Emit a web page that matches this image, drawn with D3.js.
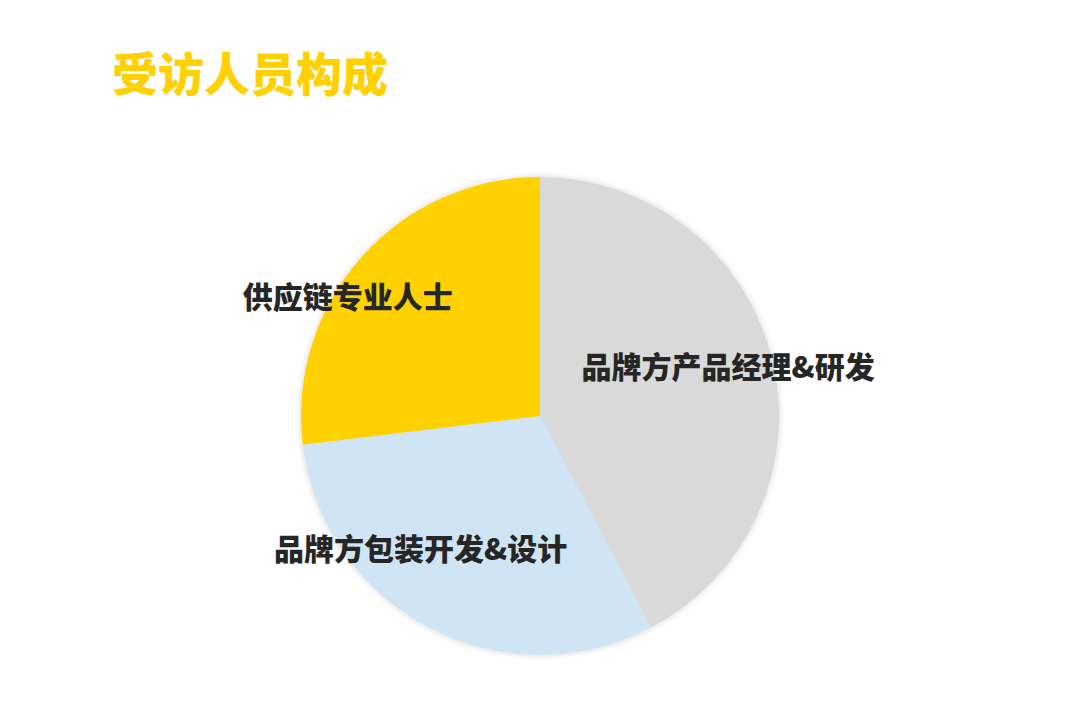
<!DOCTYPE html>
<html>
<head>
<meta charset="utf-8">
<script src="https://cdn.jsdelivr.net/npm/d3@7"></script>
<style>
  body { margin: 0; background: #ffffff; }
  svg { display: block; font-family: "Noto Sans CJK SC", "Noto Sans", sans-serif; }
</style>
</head>
<body>
<svg id="chart"></svg>
<script>
// data
const categories = ["品牌方产品经理&研发", "品牌方包装开发&设计", "供应链专业人士"];
const counts = [11, 8, 7];
const colors = ["#D9D9D9", "#CFE4F4", "#FFD100"];

// label nudges from the arc centroid (px)
const labelNudge = [[14, -6], [-36, -25], [-58, 0]];

const width = 1080;
const height = 725;
const cx = 540, cy = 416, radius = 239;

const svg = d3.select("#chart")
    .attr("width", width)
    .attr("height", height);

// soft shadow round the pie
const defs = svg.append("defs");
const filter = defs.append("filter")
    .attr("id", "shadow")
    .attr("x", "-20%").attr("y", "-20%")
    .attr("width", "140%").attr("height", "140%");
filter.append("feGaussianBlur")
    .attr("in", "SourceAlpha")
    .attr("stdDeviation", 3);
filter.append("feComponentTransfer")
    .append("feFuncA").attr("type", "linear").attr("slope", 0.18);
const merge = filter.append("feMerge");
merge.append("feMergeNode");
merge.append("feMergeNode").attr("in", "SourceGraphic");

// title
svg.append("text")
    .attr("x", 112)
    .attr("y", 91)
    .style("font-size", "46px")
    .style("font-weight", 900)
    .attr("fill", "#FFD100")
    .text("受访人员构成");

const data = categories.map((c, i) => ({ name: c, value: counts[i], color: colors[i], nudge: labelNudge[i] }));

const pie = d3.pie()
    .value(d => d.value)
    .sort(null);

const arc = d3.arc()
    .innerRadius(0)
    .outerRadius(radius);

const labelArc = d3.arc()
    .innerRadius(radius * 0.75)
    .outerRadius(radius * 0.75);

const g = svg.append("g")
    .attr("transform", "translate(" + cx + "," + cy + ")");

g.append("g")
    .attr("filter", "url(#shadow)")
    .selectAll("path")
    .data(pie(data))
    .enter()
    .append("path")
    .attr("d", arc)
    .attr("fill", d => d.data.color);

g.selectAll(".slice-label")
    .data(pie(data))
    .enter()
    .append("text")
    .attr("class", "slice-label")
    .attr("x", d => labelArc.centroid(d)[0] + d.data.nudge[0])
    .attr("y", d => labelArc.centroid(d)[1] + d.data.nudge[1])
    .attr("dy", "0.35em")
    .style("text-anchor", "middle")
    .style("font-size", "30px")
    .style("font-weight", 900)
    .attr("fill", "#262626")
    .text(d => d.data.name);
</script>
</body>
</html>
